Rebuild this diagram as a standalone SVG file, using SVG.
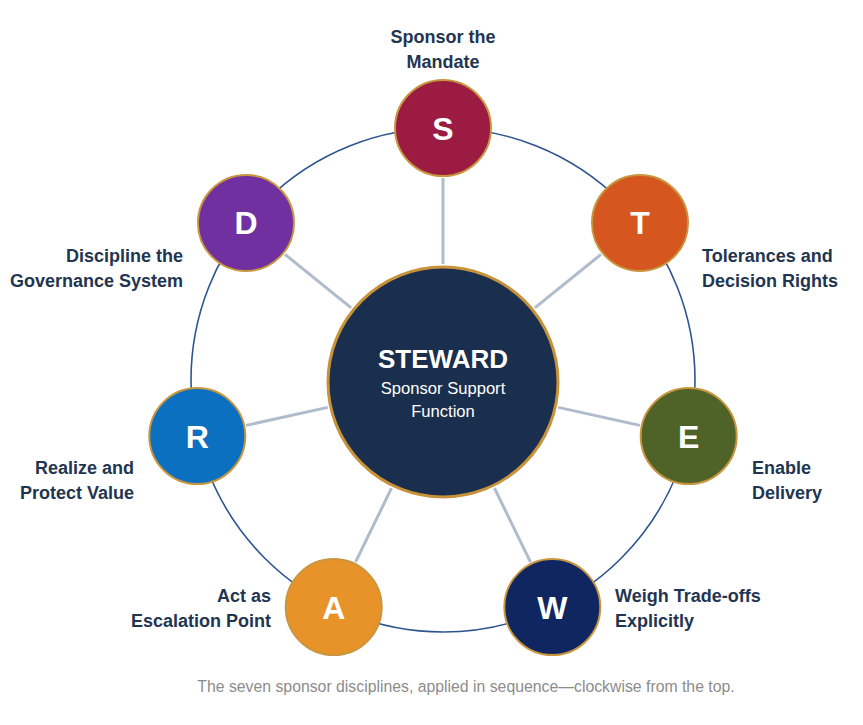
<svg xmlns="http://www.w3.org/2000/svg" width="863" height="725" viewBox="0 0 863 725">
<style>
.ring{fill:none;stroke:#2e5490;stroke-width:1.6}
.spoke{stroke:#b0bccb;stroke-width:3;stroke-linecap:butt}
.node{stroke:#c9963f;stroke-width:2}
.letter{font-family:"Liberation Sans",Arial,sans-serif;font-weight:bold;font-size:32px;fill:#fff;text-anchor:middle}
.lbl{font-family:"Liberation Sans",Arial,sans-serif;font-weight:bold;font-size:18px;fill:#1f3550}
.r{text-anchor:end}
.m{text-anchor:middle}
.cap{font-family:"Liberation Sans",Arial,sans-serif;font-size:15.8px;fill:#8c8c8c;text-anchor:middle}
</style>
<rect width="863" height="725" fill="#fff"/>
<circle class="ring" cx="443" cy="380" r="252"/>
<g id="connectors">
<line class="spoke" x1="443" y1="264" x2="443" y2="178"/>
<line class="spoke" x1="534.8" y1="307.9" x2="601.1" y2="254.3"/>
<line class="spoke" x1="558.2" y1="407.4" x2="639.9" y2="425.4"/>
<line class="spoke" x1="494.5" y1="488.2" x2="530.5" y2="562.1"/>
<line class="spoke" x1="391.5" y1="488.2" x2="355.5" y2="562.1"/>
<line class="spoke" x1="327.8" y1="407.4" x2="246.1" y2="425.4"/>
<line class="spoke" x1="351.2" y1="307.9" x2="284.9" y2="254.3"/>
</g>
<g id="center">
<circle cx="443" cy="382" r="115" fill="#1a2f4d" stroke="#c8923a" stroke-width="3"/>
<text x="443" y="368" font-family="Liberation Sans,Arial,sans-serif" font-weight="bold" font-size="26" fill="#fff" text-anchor="middle">STEWARD</text>
<text x="443" y="394" font-family="Liberation Sans,Arial,sans-serif" font-size="16.6" fill="#fff" text-anchor="middle">Sponsor Support</text>
<text x="443" y="417" font-family="Liberation Sans,Arial,sans-serif" font-size="16.6" fill="#fff" text-anchor="middle">Function</text>
</g>
<g id="node-S">
<circle class="node" cx="443" cy="128" r="48" fill="#9b1b42"/>
<text class="letter" x="443" y="139.5">S</text>
<text class="lbl m" x="443" y="43">Sponsor the</text>
<text class="lbl m" x="443" y="68">Mandate</text>
</g>
<g id="node-T">
<circle class="node" cx="640" cy="222.9" r="48" fill="#d5561e"/>
<text class="letter" x="640" y="234.4">T</text>
<text class="lbl" x="702" y="262">Tolerances and</text>
<text class="lbl" x="702" y="287">Decision Rights</text>
</g>
<g id="node-E">
<circle class="node" cx="688.7" cy="436.1" r="48" fill="#4f6228"/>
<text class="letter" x="688.7" y="447.6">E</text>
<text class="lbl" x="752" y="474">Enable</text>
<text class="lbl" x="752" y="499">Delivery</text>
</g>
<g id="node-W">
<circle class="node" cx="552.3" cy="607.1" r="48" fill="#0f2660"/>
<text class="letter" x="552.3" y="618.6">W</text>
<text class="lbl" x="615" y="602">Weigh Trade-offs</text>
<text class="lbl" x="615" y="627">Explicitly</text>
</g>
<g id="node-A">
<circle class="node" cx="333.7" cy="607.1" r="48" fill="#e8922a"/>
<text class="letter" x="333.7" y="618.6">A</text>
<text class="lbl r" x="271" y="602">Act as</text>
<text class="lbl r" x="271" y="627">Escalation Point</text>
</g>
<g id="node-R">
<circle class="node" cx="197.3" cy="436.1" r="48" fill="#0b70c0"/>
<text class="letter" x="197.3" y="447.6">R</text>
<text class="lbl r" x="134" y="474">Realize and</text>
<text class="lbl r" x="134" y="499">Protect Value</text>
</g>
<g id="node-D">
<circle class="node" cx="246" cy="222.9" r="48" fill="#7030a0"/>
<text class="letter" x="246" y="234.4">D</text>
<text class="lbl r" x="183" y="262">Discipline the</text>
<text class="lbl r" x="183" y="287">Governance System</text>
</g>
<text class="cap" x="466" y="692">The seven sponsor disciplines, applied in sequence—clockwise from the top.</text>
</svg>
